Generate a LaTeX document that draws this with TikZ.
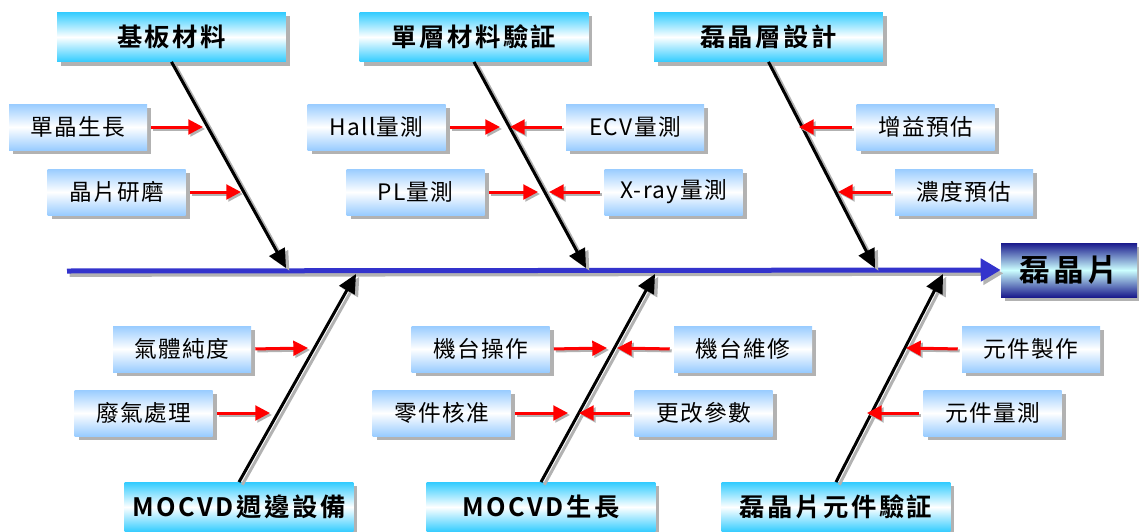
\documentclass[tikz,border=0pt]{standalone}
\usepackage{fontspec}
\newfontfamily\cjk[LetterSpace=6]{Noto Sans CJK TC}
\newfontfamily\cjkbold[LetterSpace=10]{Noto Sans CJK TC Bold}
\usetikzlibrary{arrows.meta,shadows}
\definecolor{skyc}{HTML}{33CCFF}
\definecolor{paleb}{HTML}{99CCFF}
\definecolor{navyc}{HTML}{1A1A8C}
\definecolor{icec}{HTML}{CCFFFF}
\definecolor{spinec}{HTML}{3333CC}
\definecolor{shadec}{HTML}{B2B2B2}
\tikzset{
  boxshadow/.style={general shadow={fill=shadec, shadow xshift=3pt, shadow yshift=-3pt}},
  causebox/.style={boxshadow, top color=skyc, bottom color=skyc, middle color=white,
    minimum width=171.5pt, minimum height=37pt, inner sep=0pt,
    font=\cjkbold\fontsize{19pt}{21pt}\selectfont},
  itembox/.style={boxshadow, top color=paleb, bottom color=paleb, middle color=white,
    minimum width=103.5pt, minimum height=34.5pt, inner sep=0pt,
    font=\cjk\fontsize{17pt}{19pt}\selectfont},
  effectbox/.style={boxshadow, top color=navyc, bottom color=navyc, middle color=icec,
    minimum width=102pt, minimum height=40.5pt, inner sep=0pt,
    font=\cjkbold\fontsize{23pt}{25pt}\selectfont},
  bone/.style={line width=2.25pt, -{Triangle[length=14pt,width=13pt]},
    preaction={draw=shadec, line width=2.25pt, -{Triangle[length=14pt,width=13pt]},
      transform canvas={shift={(2.5pt,-2pt)}}}},
  feed/.style={red, line width=2.25pt, shorten <=3pt, -{Triangle[length=11pt,width=11pt]},
    preaction={draw=shadec, line width=2.25pt, shorten <=3pt, -{Triangle[length=11pt,width=11pt]},
      transform canvas={shift={(1.5pt,-1.5pt)}}}},
  spineline/.style={spinec, line width=3.75pt, -{Triangle[length=15pt,width=16.5pt]},
    preaction={draw=shadec, line width=3.75pt, transform canvas={shift={(2pt,-2.5pt)}}}}
}

\begin{document}
\begin{tikzpicture}[x=0.75pt,y=-0.75pt]
  \useasboundingbox (0,0) rectangle (1139,532);
  %%%%% START %%%%%

  % effect and main spine
  \node[effectbox] (wafer) at (1069,270) {磊晶片};
  \coordinate (tail) at (67,271);
  \draw[spineline] (tail) -- (wafer.west);

  % upper causes
  \node[causebox] (subst) at (171.5,37) {基板材料};
  \node[causebox] (layer) at (474,37) {單層材料驗証};
  \node[causebox] (epi) at (768.5,37) {磊晶層設計};

  \coordinate (substtip) at (286,268);
  \coordinate (layertip) at (586,268);
  \coordinate (epitip) at (875,268);
  \draw[bone] (subst.south) -- (substtip);
  \draw[bone] (layer.south) -- (layertip);
  \draw[bone] (epi.south) -- (epitip);

  % lower causes
  \node[causebox] (periph) at (239,507) {MOCVD週邊設備};
  \node[causebox] (growth) at (541,507) {MOCVD生長};
  \node[causebox] (device) at (836,507) {磊晶片元件驗証};

  \coordinate (periphtip) at (356,274);
  \coordinate (growthtip) at (655,274);
  \coordinate (devicetip) at (943,274);
  \draw[bone] (periph.north) -- (periphtip);
  \draw[bone] (growth.north) -- (growthtip);
  \draw[bone] (device.north) -- (devicetip);

  % sub causes, upper row
  \node[itembox] (crystal) at (78,127) {單晶生長};
  \node[itembox] (polish) at (116.5,192) {晶片研磨};
  \node[itembox] (hall) at (376.5,127) {Hall量測};
  \node[itembox] (ecv) at (635,127) {ECV量測};
  \node[itembox] (pl) at (415.5,192) {PL量測};
  \node[itembox] (xray) at (673.5,192) {X-ray量測};
  \node[itembox] (gain) at (925.5,127) {增益預估};
  \node[itembox] (dope) at (964,192) {濃度預估};

  \coordinate (crystalend) at (203,127);
  \coordinate (polishend) at (241,192);
  \coordinate (hallend) at (500,127);
  \coordinate (ecvend) at (510,127);
  \coordinate (plend) at (538,192);
  \coordinate (xrayend) at (549,192);
  \coordinate (gainend) at (799,127);
  \coordinate (dopeend) at (838,192);

  \draw[feed] (crystal.east) -- (crystalend);
  \draw[feed] (polish.east) -- (polishend);
  \draw[feed] (hall.east) -- (hallend);
  \draw[feed] (ecv.west) -- (ecvend);
  \draw[feed] (pl.east) -- (plend);
  \draw[feed] (xray.west) -- (xrayend);
  \draw[feed] (gain.west) -- (gainend);
  \draw[feed] (dope.west) -- (dopeend);

  % sub causes, lower row
  \node[itembox] (purity) at (182,349) {氣體純度};
  \node[itembox] (exhaust) at (143.5,413) {廢氣處理};
  \node[itembox] (operate) at (480.5,349) {機台操作};
  \node[itembox] (repair) at (743,349) {機台維修};
  \node[itembox] (parts) at (441.5,413) {零件核准};
  \node[itembox] (param) at (703.5,413) {更改參數};
  \node[itembox] (make) at (1031,349) {元件製作};
  \node[itembox] (measure) at (992.5,413) {元件量測};

  \coordinate (purityend) at (308,348);
  \coordinate (exhaustend) at (270,413);
  \coordinate (operateend) at (607,348);
  \coordinate (repairend) at (617,348);
  \coordinate (partsend) at (568,413);
  \coordinate (paramend) at (579,413);
  \coordinate (makeend) at (906,348);
  \coordinate (measureend) at (867,413);

  \draw[feed] (purity.east) -- (purityend);
  \draw[feed] (exhaust.east) -- (exhaustend);
  \draw[feed] (operate.east) -- (operateend);
  \draw[feed] (repair.west) -- (repairend);
  \draw[feed] (parts.east) -- (partsend);
  \draw[feed] (param.west) -- (paramend);
  \draw[feed] (make.west) -- (makeend);
  \draw[feed] (measure.west) -- (measureend);

  %%%%% END %%%%%
\end{tikzpicture}
\end{document}
